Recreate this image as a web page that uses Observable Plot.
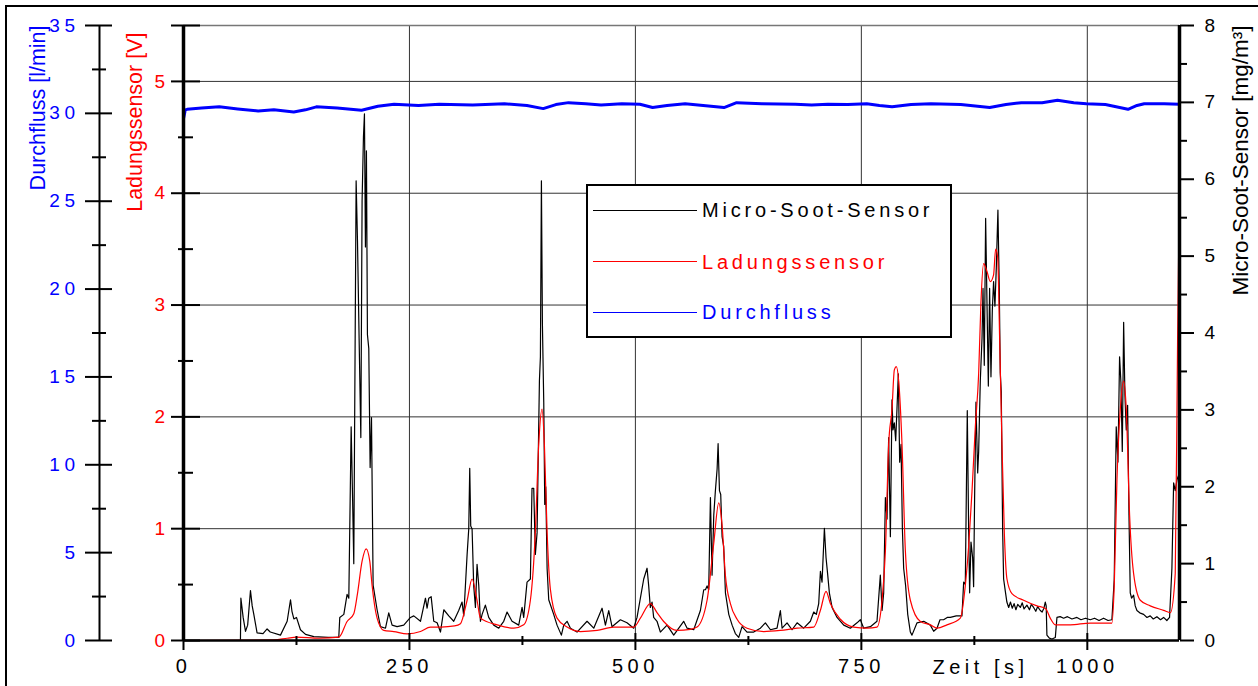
<!DOCTYPE html>
<html>
<head>
<meta charset="utf-8">
<script src="https://cdn.jsdelivr.net/npm/d3@7"></script>
<script src="https://cdn.jsdelivr.net/npm/@observablehq/plot@0.6"></script>
<style>
html,body{margin:0;padding:0;background:#fff;overflow:hidden;}
#wrap{position:relative;width:1258px;height:686px;overflow:hidden;font-family:"Liberation Sans",Arial,sans-serif;}
#frame{position:absolute;left:5px;top:5px;width:1300px;height:800px;border:2.5px solid #000;}
#chart{position:absolute;left:0;top:0;}
#chart svg text{letter-spacing:4.5px;}
#chart svg text[transform*="rotate"]{letter-spacing:0;}
#legend{position:absolute;left:586px;top:184px;width:366px;height:154px;border:2px solid #000;background:#fff;box-sizing:border-box;}
.lgline{position:absolute;left:593px;width:104px;height:0;}
.lgtext{position:absolute;left:702px;font-size:20px;line-height:20px;letter-spacing:3.8px;white-space:nowrap;}
</style>
</head>
<body>
<div id="wrap">
  <div id="frame"></div>
  <div id="chart"></div>
  <div id="legend"></div>
</div>
<script>
// ---- axis domains ----
const xMax = 1102;
const ladMax = 5.5;      // Ladungssensor [V]
const flowMax = 35;      // Durchfluss [l/min]
const sootMax = 8;       // Micro-Soot-Sensor [mg/m³]

// ---- tick values ----
const xTicks = [0, 250, 500, 750, 1000];
const xMinor = [125, 375, 625, 875];
const ladTicks = [0, 1, 2, 3, 4, 5];
const ladMinor = [0.5, 1.5, 2.5, 3.5, 4.5];
const flowTicks = [0, 5, 10, 15, 20, 25, 30, 35];
const flowMinor = [2.5, 7.5, 12.5, 17.5, 22.5, 27.5, 32.5];
const sootTicks = [0, 1, 2, 3, 4, 5, 6, 7, 8];
const sootMinor = [0.5, 1.5, 2.5, 3.5, 4.5, 5.5, 6.5, 7.5];

// ---- labels ----
const seriesNames = ["Micro-Soot-Sensor", "Ladungssensor", "Durchfluss"];
const seriesColors = ["#000000", "#ff0000", "#0000ff"];
const flowTitle = "Durchfluss [l/min]";
const ladTitle = "Ladungssensor [V]";
const sootTitle = "Micro-Soot-Sensor [mg/m³]";
const xTitle = "Zeit [s]";

// ---- series: [Zeit s, Wert] ----
const sootSeries = [[0,0],[63,0],[63.5,0.55],[66,0.3],[68.6,0.12],[71,0.2],[74.1,0.65],[76,0.45],[77.8,0.34],[81.4,0.1],[88,0.09],[92.5,0.15],[96,0.11],[107.3,0.07],[114.7,0.25],[118.4,0.53],[120,0.38],[122.1,0.28],[125,0.3],[129.4,0.14],[135,0.08],[144.2,0.05],[160,0.04],[171.8,0.04],[172.9,0.3],[177.4,0.34],[181,0.6],[182.9,0.55],[185.5,2.78],[187,1.9],[188.4,1.0],[191,5.98],[192.5,5.2],[194.3,3.93],[196.2,2.64],[197.6,5.72],[199.1,6.55],[200.2,6.85],[201.3,5.12],[202.4,6.37],[203.5,3.98],[205,3.8],[206.5,2.25],[208,2.9],[209.8,0.72],[214.2,0.4],[217.9,0.18],[223.5,0.16],[227.1,0.36],[230.8,0.2],[236.3,0.18],[243.7,0.2],[251.1,0.3],[254.8,0.32],[262.2,0.25],[267.7,0.55],[269.5,0.42],[271.4,0.55],[274,0.57],[276.9,0.25],[280.6,0.23],[284.3,0.11],[288,0.4],[293.5,0.32],[299,0.25],[304.5,0.39],[308.2,0.5],[310.1,0.32],[311.9,0.71],[313.8,1.12],[315.6,1.45],[316.7,2.24],[317.8,1.49],[319.3,1.45],[321.1,0.71],[323,0.43],[324.8,0.99],[326.7,0.71],[328.5,0.25],[330.4,0.34],[334,0.46],[337.7,0.3],[343.3,0.2],[348.8,0.16],[354.3,0.25],[358,0.37],[363.5,0.25],[370.9,0.2],[374.6,0.43],[376.4,0.3],[380.1,0.76],[383.8,0.8],[385.6,1.98],[387.5,1.98],[389.3,1.12],[391.2,1.4],[393.8,3.38],[394.9,3.69],[396,5.98],[397.1,4.12],[398.6,3.1],[399.7,1.77],[400.8,2.0],[402.3,0.94],[404.1,0.53],[409.6,0.34],[413.3,0.2],[418.1,0.07],[420.7,0.2],[424.4,0.25],[428.1,0.16],[435.4,0.11],[446.5,0.25],[453.9,0.16],[463.1,0.42],[466.8,0.2],[470.5,0.39],[474.1,0.18],[483.4,0.27],[490.7,0.23],[498.1,0.16],[501.8,0.3],[505.5,0.55],[509.2,0.8],[512.9,0.94],[514.7,0.71],[516.5,0.43],[518.4,0.5],[520.2,0.3],[523.9,0.25],[527.6,0.11],[535,0.2],[542.4,0.07],[553.4,0.25],[557.2,0.16],[564.5,0.14],[571.9,0.39],[575.6,0.66],[577.5,0.66],[579.3,0.71],[581.1,0.66],[583,1.86],[584.8,0.85],[586.7,1.63],[588.5,1.95],[590.4,2.23],[591.5,2.56],[593,1.95],[594.4,1.9],[595.9,1.35],[597.7,1.22],[599.6,0.62],[603.3,0.34],[607,0.2],[610.6,0.09],[614.3,0.04],[618,0.18],[623.5,0.11],[630.9,0.11],[638.3,0.16],[643.8,0.23],[649.4,0.14],[656.7,0.16],[660.4,0.39],[662.3,0.16],[667.8,0.23],[673.3,0.14],[678.9,0.23],[686.2,0.16],[693.6,0.25],[697.3,0.37],[700.2,0.34],[702.8,0.48],[704.7,0.9],[706.5,0.76],[709.1,1.46],[710.9,1.08],[712.8,0.85],[714.6,0.62],[717.6,0.43],[723.1,0.3],[730.5,0.2],[737.8,0.16],[745.2,0.23],[748.9,0.27],[752.6,0.16],[760,0.18],[767.3,0.25],[771,0.85],[772.9,0.39],[774.7,0.62],[776.6,1.86],[778.4,1.58],[780.2,2.64],[782.1,1.35],[783.9,3.13],[785,2.74],[786.5,2.83],[788,2.6],[789.4,3.01],[790.9,3.47],[792.4,2.32],[793.9,2.55],[795.4,1.45],[796.8,0.94],[799,0.71],[801.3,0.34],[804.2,0.11],[806,0.07],[811.6,0.23],[819,0.25],[826.3,0.2],[830,0.12],[833.7,0.16],[837,0.27],[841,0.27],[845,0.3],[848.4,0.3],[855,0.32],[861.3,0.32],[863.2,0.76],[865,0.73],[867.2,2.99],[868.7,1.45],[869.8,0.62],[871.3,1.28],[873.1,1.08],[874.2,0.7],[875.3,1.86],[876.8,3.1],[878.7,2.18],[879.8,2.46],[881.6,3.38],[883.5,3.93],[884.6,4.58],[886,3.58],[887.5,5.49],[889,4.39],[890.5,3.31],[891.9,4.58],[893.4,3.43],[894.9,4.3],[896.3,4.67],[897.8,4.35],[899.3,4.85],[901.1,5.6],[902.6,4.58],[903.7,3.48],[904.8,3.24],[906.3,1.45],[907.4,0.8],[909.3,0.64],[911,0.5],[913,0.43],[915,0.5],[917,0.42],[919,0.48],[921,0.4],[923,0.47],[925.9,0.43],[928,0.49],[930,0.41],[933.2,0.46],[936,0.4],[938,0.47],[940.6,0.43],[943,0.38],[945,0.44],[948,0.39],[950,0.37],[952,0.42],[953.5,0.5],[954.5,0.45],[955.3,0.07],[958,0.03],[960.9,0.02],[964.6,0.04],[966.4,0.3],[970,0.31],[973.8,0.29],[978,0.31],[983,0.28],[988.5,0.3],[993,0.27],[998,0.29],[1003.3,0.27],[1008,0.29],[1013,0.26],[1018,0.29],[1023,0.26],[1027.2,0.27],[1029.8,0.8],[1032,2.78],[1033.9,2.32],[1035.7,3.69],[1037.2,3.36],[1038.7,2.46],[1040.2,4.14],[1041.6,3.2],[1043.1,2.74],[1044.6,3.06],[1046.1,1.63],[1047.5,0.62],[1049,0.55],[1051.2,0.59],[1053,0.45],[1054.9,0.39],[1058,0.36],[1062.3,0.34],[1066,0.3],[1069.6,0.32],[1073,0.28],[1077,0.31],[1081,0.27],[1084.4,0.3],[1088,0.26],[1091,0.3],[1093.6,0.94],[1095.5,2.05],[1097.3,1.95],[1099.2,2.09],[1102,2.18]];

const ladSeries = [[0,0],[100,0.005],[114.7,0.02],[125,0.03],[150,0.02],[172,0.03],[181,0.17],[188.4,0.24],[192.5,0.42],[197.6,0.71],[202.1,0.82],[206.1,0.71],[208.7,0.49],[214.2,0.2],[221.6,0.09],[232.7,0.08],[247.4,0.06],[262.2,0.08],[273.2,0.12],[285,0.12],[300,0.13],[306.4,0.15],[313.8,0.36],[319.3,0.55],[324.8,0.36],[328.5,0.2],[347,0.14],[365.4,0.11],[376.4,0.14],[383.8,0.36],[389.3,0.97],[393,1.75],[396.7,2.07],[399.3,1.75],[402.3,0.97],[405.9,0.46],[413.3,0.2],[424.4,0.12],[439.1,0.08],[457.6,0.09],[476,0.12],[498.1,0.12],[505.5,0.2],[516.5,0.33],[523.9,0.25],[531.3,0.17],[546,0.09],[560.8,0.1],[568.2,0.12],[579.3,0.36],[586.7,0.87],[592.2,1.23],[595.9,1.03],[599.6,0.58],[605.1,0.33],[612.5,0.19],[623.5,0.11],[642,0.08],[660.4,0.09],[678.9,0.11],[697.3,0.12],[704.7,0.27],[710.9,0.44],[715.7,0.33],[726.8,0.19],[741.5,0.12],[756.3,0.11],[767.3,0.12],[772.9,0.36],[776.6,0.8],[780.2,1.75],[783.9,2.07],[786.5,2.42],[788.7,2.45],[791.3,2.32],[795,1.75],[798.7,0.8],[804.2,0.36],[815.3,0.17],[826.3,0.14],[833.7,0.11],[844.7,0.14],[859.5,0.2],[865,0.49],[868.7,0.84],[872.4,1.33],[876.1,1.91],[879.8,2.39],[882.3,3.02],[885.3,3.37],[889,3.3],[892.7,3.21],[896.3,3.27],[898.6,3.5],[900.8,3.43],[903,2.7],[905.6,1.75],[908.2,0.96],[911.1,0.55],[916.6,0.42],[929.5,0.36],[944.3,0.31],[954,0.285],[959,0.2],[964.6,0.14],[981.2,0.14],[1003.3,0.156],[1027.2,0.156],[1029.8,0.49],[1032.8,1.44],[1036.5,2.07],[1040.2,2.32],[1043.1,2.07],[1046.8,1.12],[1051.2,0.6],[1058.6,0.36],[1069.6,0.31],[1084.4,0.27],[1092,0.25],[1097.3,0.6],[1099.9,2.7],[1102,4.1]];

const flowSeries = [[0,29.7],[2,30.2],[4,30.23],[20,30.3],[39.6,30.37],[60,30.25],[82.6,30.14],[100,30.2],[122,30.08],[135,30.2],[147,30.37],[170,30.3],[197,30.18],[215,30.4],[233,30.52],[260,30.45],[283,30.52],[320,30.48],[355,30.55],[380,30.45],[398,30.27],[412,30.5],[426,30.61],[445,30.55],[462,30.48],[485,30.55],[505,30.52],[519,30.33],[535,30.45],[555,30.55],[575,30.45],[598,30.33],[612,30.61],[640,30.55],[677,30.52],[695,30.48],[713,30.52],[735,30.5],[756,30.55],[770,30.45],[784,30.37],[805,30.5],[827,30.55],[860,30.5],[892,30.33],[910,30.5],[927,30.61],[950,30.6],[967,30.74],[985,30.6],[999,30.55],[1020,30.5],[1045,30.23],[1055,30.45],[1063,30.55],[1085,30.55],[1102,30.52]];

// ---- rows for Plot ----
const soot = sootSeries.map(([t, v]) => ({t, v}));
const lad = ladSeries.map(([t, v]) => ({t, v}));
const flow = flowSeries.map(([t, v]) => ({t, v}));

// all series share the Ladungssensor scale; others are rescaled onto it
const fromFlow = v => v * ladMax / flowMax;
const fromSoot = v => v * ladMax / sootMax;

const common = {strokeWidth: 2, stroke: "#000", label: null, fontSize: 19};

const chart = Plot.plot({
  width: 1258,
  height: 686,
  marginLeft: 183,
  marginRight: 79,
  marginTop: 25,
  marginBottom: 46,
  x: {domain: [0, xMax], axis: null},
  y: {domain: [0, ladMax], axis: null},
  style: {fontFamily: "'Liberation Sans', Arial, sans-serif", fontSize: "19px", background: "transparent", overflow: "visible"},
  marks: [
    // grid
    Plot.gridX(xTicks.slice(1), {stroke: "#333", strokeOpacity: 1, strokeWidth: 1}),
    Plot.gridY(ladTicks.slice(1), {stroke: "#333", strokeOpacity: 1, strokeWidth: 1}),
    Plot.ruleY([ladMax], {stroke: "#777", strokeWidth: 1.5}),
    // series
    Plot.line(flow, {x: "t", y: d => fromFlow(d.v), stroke: "#0000ff", strokeWidth: 3}),
    Plot.line(soot, {x: "t", y: d => fromSoot(d.v), stroke: "#000", strokeWidth: 1.2}),
    Plot.line(lad, {x: "t", y: "v", stroke: "#ff0000", strokeWidth: 1.2, curve: "monotone-x"}),
    // axis lines
    Plot.ruleY([0], {stroke: "#000", strokeWidth: 2.5}),
    Plot.ruleX([0], {stroke: "#000", strokeWidth: 3.5}),
    Plot.ruleX([xMax], {stroke: "#000", strokeWidth: 3.5}),
    Plot.ruleX([0], {stroke: "#000", strokeWidth: 2, dx: -84}),
    // x axis
    Plot.axisX(xTicks, {...common, fontSize: 20, anchor: "bottom", tickSize: 17, dy: -7, tickPadding: 8, fill: "#000", tickFormat: d => String(d)}),
    Plot.axisX(xMinor, {...common, anchor: "bottom", tickSize: 9, dy: -4, fill: "none"}),
    // Ladungssensor axis (red labels)
    Plot.axisY(ladTicks, {...common, anchor: "left", tickSize: 29, dx: 17, tickPadding: 2, fill: "#ff0000", tickFormat: d => String(d)}),
    Plot.axisY([ladMax], {...common, anchor: "left", tickSize: 29, dx: 17, fill: "none"}),
    Plot.axisY(ladMinor, {...common, anchor: "left", tickSize: 15, dx: 10, fill: "none"}),
    // Durchfluss axis (blue labels)
    Plot.axisY(flowTicks.map(fromFlow), {...common, anchor: "left", tickSize: 27, dx: -71, tickPadding: 6, fill: "#0000ff", tickFormat: d => String(Math.round(d * flowMax / ladMax))}),
    Plot.axisY(flowMinor.map(fromFlow), {...common, anchor: "left", tickSize: 14, dx: -77, fill: "none"}),
    // Micro-Soot-Sensor axis (right)
    Plot.axisY(sootTicks.map(fromSoot), {...common, anchor: "right", tickSize: 14, tickPadding: 11, fill: "#000", tickFormat: d => String(Math.round(d * sootMax / ladMax))}),
    Plot.axisY(sootMinor.map(fromSoot), {...common, anchor: "right", tickSize: 7, fill: "none"}),
    // axis titles
    Plot.text([flowTitle], {text: d => d, frameAnchor: "top-left", dx: -139, rotate: -90, textAnchor: "end", lineAnchor: "bottom", fill: "#0000ff", fontSize: 21.5}),
    Plot.text([ladTitle], {text: d => d, frameAnchor: "top-left", dx: -42, dy: 7, rotate: -90, textAnchor: "end", lineAnchor: "bottom", fill: "#ff0000", fontSize: 21.5}),
    Plot.text([sootTitle], {text: d => d, frameAnchor: "top-right", dx: 68, rotate: -90, textAnchor: "end", lineAnchor: "bottom", fill: "#000", fontSize: 22.5}),
    Plot.text([xTitle], {text: d => d, frameAnchor: "bottom-left", dx: 797, dy: 33, textAnchor: "middle", lineAnchor: "bottom", fill: "#000", fontSize: 20})
  ]
});
document.getElementById("chart").appendChild(chart);

// ---- legend (HTML, over the plot) ----
const wrap = document.getElementById("wrap");
const lineTops = [210, 261, 312];
const textTops = [200, 252, 302];
seriesNames.forEach((name, i) => {
  const ln = document.createElement("div");
  ln.className = "lgline";
  ln.style.top = (lineTops[i] - 0.5) + "px";
  ln.style.borderTop = "1px solid " + seriesColors[i];
  wrap.appendChild(ln);
  const tx = document.createElement("div");
  tx.className = "lgtext";
  tx.style.top = textTops[i] + "px";
  tx.style.color = seriesColors[i];
  tx.textContent = name;
  wrap.appendChild(tx);
});
</script>
</body>
</html>
